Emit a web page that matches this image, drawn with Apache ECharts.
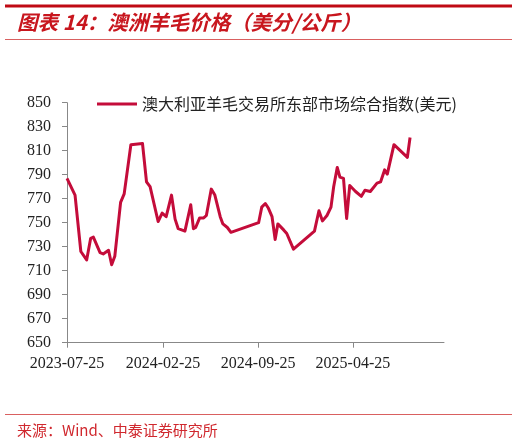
<!DOCTYPE html>
<html lang="zh">
<head>
  <meta charset="utf-8">
  <title>澳洲羊毛价格</title>
  <script src="https://cdn.jsdelivr.net/npm/echarts@6.0.0/dist/echarts.min.js"></script>
  <style>
    html, body { margin: 0; padding: 0; background: #fff; }
    #main { width: 517px; height: 443px; }
  </style>
</head>
<body>
  <div id="main"></div>
  <script>
    // 澳大利亚羊毛交易所东部市场综合指数
    var dates = [
      '2023-07-25', '2023-08-12', '2023-08-25', '2023-09-07', '2023-09-16', '2023-09-22',
      '2023-10-07', '2023-10-14', '2023-10-26', '2023-11-02', '2023-11-09', '2023-11-22',
      '2023-11-30', '2023-12-15', '2024-01-10', '2024-01-19', '2024-01-27', '2024-02-14',
      '2024-02-23', '2024-03-03', '2024-03-15', '2024-03-23', '2024-03-30', '2024-04-14',
      '2024-04-18', '2024-04-27', '2024-05-03', '2024-05-08', '2024-05-17', '2024-05-26',
      '2024-06-01', '2024-06-12', '2024-06-20', '2024-07-02', '2024-07-08', '2024-07-18',
      '2024-07-26', '2024-09-26', '2024-10-03', '2024-10-11', '2024-10-18', '2024-10-26',
      '2024-11-02', '2024-11-08', '2024-11-21', '2024-11-28', '2024-12-13', '2025-01-29',
      '2025-02-08', '2025-02-16', '2025-02-26', '2025-03-07', '2025-03-13', '2025-03-21',
      '2025-03-27', '2025-04-04', '2025-04-11', '2025-04-18', '2025-05-01', '2025-05-14',
      '2025-05-22', '2025-06-03', '2025-06-18', '2025-06-26', '2025-07-05', '2025-07-11',
      '2025-07-26', '2025-08-25', '2025-08-31'
    ];
    var values = [
      787, 773, 726, 719, 737, 738,
      725, 724, 727, 715, 722, 767,
      774, 815, 816, 784, 780, 751,
      758, 755, 773, 753, 745, 743,
      742, 765, 745, 746, 754, 754,
      756, 778, 773, 755, 749, 746,
      742, 750, 763, 766, 762, 755,
      736, 749, 744, 741, 728, 743,
      760, 751.5, 756, 763, 780, 796,
      788, 787, 753.5, 781, 776, 772,
      777, 776, 783, 784, 794, 790.5,
      815, 804.5, 821
    ];

    var seriesName = '澳大利亚羊毛交易所东部市场综合指数(美元)';
    var xTickLabels = ['2023-07-25', '2024-02-25', '2024-09-25', '2025-04-25'];
    var yTickLabels = [650, 670, 690, 710, 730, 750, 770, 790, 810, 830, 850];
    var xMin = '2023-07-25';
    var xMax = '2025-11-15';

    function toTime(d) {
      return +echarts.time.parse(d);
    }

    var chart = echarts.init(document.getElementById('main'));

    var xTicks = xTickLabels.map(toTime);
    var serif = '"Liberation Serif", "Times New Roman", serif';

    var option = {
      backgroundColor: '#fff',
      animation: false,
      title: [
        {
          text: '图表 14：澳洲羊毛价格（美分/公斤）',
          left: 17,
          top: 12,
          padding: 0,
          textStyle: {
            color: '#C8161E',
            fontSize: 20.5,
            fontStyle: 'italic',
            fontWeight: 'bold',
            fontFamily: '"Noto Sans CJK SC", sans-serif'
          }
        },
        {
          text: '来源：Wind、中泰证券研究所',
          left: 17,
          top: 423,
          padding: 0,
          textStyle: {
            color: '#D0282E',
            fontSize: 15,
            fontWeight: 'normal',
            fontFamily: '"Noto Sans CJK SC", sans-serif'
          }
        }
      ],
      graphic: [
        { type: 'line', shape: { x1: 5, y1: 6, x2: 512, y2: 6 }, style: { stroke: '#C00A14', lineWidth: 3 } },
        { type: 'line', shape: { x1: 5, y1: 39.5, x2: 512, y2: 39.5 }, style: { stroke: '#D96060', lineWidth: 1 } },
        { type: 'line', shape: { x1: 5, y1: 414.5, x2: 512, y2: 414.5 }, style: { stroke: '#D96060', lineWidth: 1 } }
      ],
      legend: {
        left: 97,
        top: 96,
        padding: 0,
        icon: 'rect',
        itemWidth: 40,
        itemHeight: 3,
        textStyle: {
          color: '#222',
          fontSize: 16,
          fontFamily: '"Noto Sans CJK SC", serif'
        },
        data: [seriesName]
      },
      grid: {
        left: 67,
        right: 73,
        top: 102.7,
        bottom: 100.3,
        containLabel: false
      },
      xAxis: {
        type: 'value',
        min: toTime(xMin),
        max: toTime(xMax),
        splitLine: { show: false },
        axisLine: { lineStyle: { color: '#888', width: 1 } },
        axisTick: {
          show: true,
          length: 5,
          customValues: xTicks,
          lineStyle: { color: '#888' }
        },
        axisLabel: {
          customValues: xTicks,
          margin: 13,
          color: '#222',
          fontSize: 16,
          fontFamily: serif,
          formatter: function (v) {
            return echarts.time.format(v, '{yyyy}-{MM}-{dd}', false);
          }
        }
      },
      yAxis: {
        type: 'value',
        min: 650,
        max: 850,
        splitLine: { show: false },
        axisLine: { show: true, lineStyle: { color: '#888', width: 1 } },
        axisTick: {
          show: true,
          length: 5,
          customValues: yTickLabels,
          lineStyle: { color: '#888' }
        },
        axisLabel: {
          customValues: yTickLabels,
          margin: 16,
          color: '#222',
          fontSize: 16,
          fontFamily: serif
        }
      },
      series: [
        {
          name: seriesName,
          type: 'line',
          showSymbol: false,
          symbol: 'none',
          color: '#C40C3A',
          lineStyle: { width: 3, color: '#C40C3A', join: 'round' },
          data: dates.map(function (d, i) { return [toTime(d), values[i]]; })
        }
      ]
    };

    chart.setOption(option);
  </script>
</body>
</html>
